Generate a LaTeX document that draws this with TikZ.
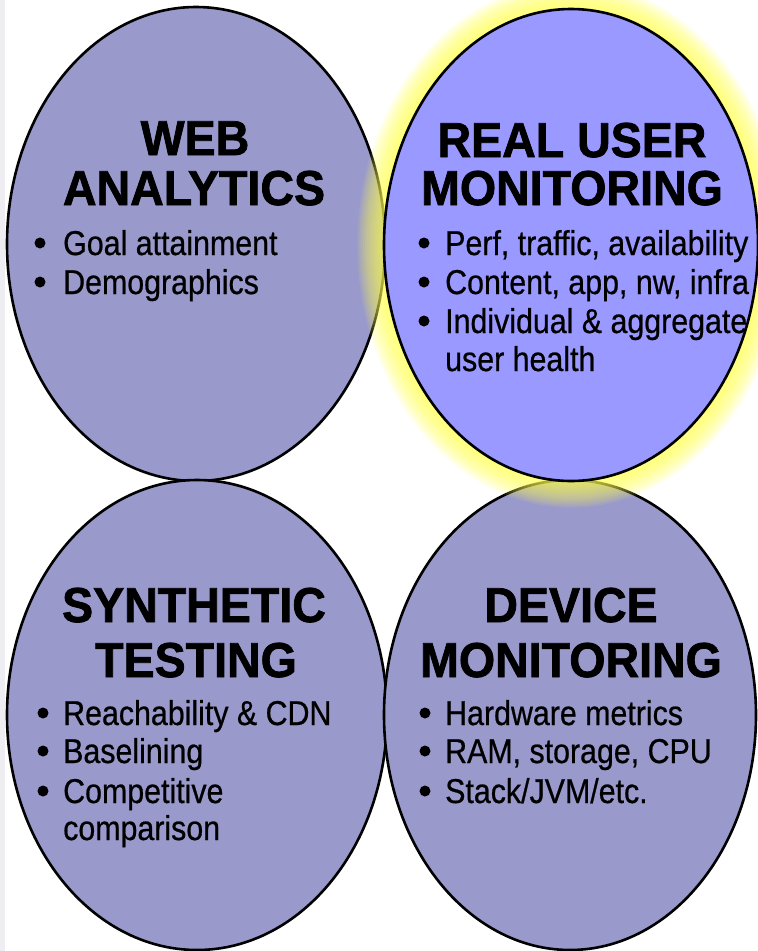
\documentclass[tikz,border=0pt]{standalone}
\usepackage{fontspec}
\setmainfont{Liberation Sans}
\newfontfamily\titlef[FakeStretch=0.95,FakeBold=1.5]{Liberation Sans}
\newfontfamily\bodyf[FakeStretch=0.88,FakeBold=0.6]{Liberation Sans}
\usetikzlibrary{shapes.geometric}
\definecolor{lav}{RGB}{153,153,204}
\definecolor{rumc}{RGB}{153,153,255}
\definecolor{glowc}{RGB}{255,255,80}
\definecolor{stripc}{RGB}{238,238,242}
\begin{document}
\begin{tikzpicture}[x=1pt,y=-1pt,
  oval/.style={ellipse, draw=black, line width=2.6pt, inner sep=0pt},
  ttl/.style={anchor=base, inner sep=0pt, font=\titlef\bfseries\fontsize{49}{50}\selectfont},
  itm/.style={anchor=base west, inner sep=0pt, font=\bodyf\fontsize{34.5}{36}\selectfont},
  dot/.style={fill=black}]
\useasboundingbox (0,0) rectangle (758,951);
\fill[white] (0,0) rectangle (758,951);
\fill[stripc] (0,0) rectangle (5,951);
% ovals
\node[oval, fill=lav, minimum width=378pt, minimum height=474pt] (wa) at (196,244) {};
\node[oval, fill=lav, minimum width=380pt, minimum height=470pt] (st) at (197,715) {};
\node[oval, fill=lav, minimum width=372pt, minimum height=470pt] (dm) at (570,715) {};
% glow
\foreach \i in {1,...,14}
  \fill[glowc, opacity=0.09] (571,245) ellipse ({187+1.9*\i} and {236+1.9*\i});
\node[oval, fill=rumc, minimum width=374pt, minimum height=472pt] (rum) at (571,245) {};
% WEB ANALYTICS
\node[ttl] (wa1) at (195,155) {WEB};
\node[ttl] (wa2) at (194,205) {ANALYTICS};
\fill[dot] (40,243) circle (5.5);
\node[itm] (wab1) at (63,255) {Goal attainment};
\fill[dot] (40,282) circle (5.5);
\node[itm] (wab2) at (63,294) {Demographics};
% REAL USER MONITORING
\node[ttl] (rum1) at (572,157) {REAL USER};
\node[ttl] (rum2) at (572,205) {MONITORING};
\fill[dot] (424,243) circle (5.5);
\node[itm] (rumb1) at (445,255) {Perf, traffic, availability};
\fill[dot] (424,282) circle (5.5);
\node[itm] (rumb2) at (445,294) {Content, app, nw, infra};
\fill[dot] (424,321) circle (5.5);
\node[itm] (rumb3) at (445,333) {Individual \& aggregate};
\node[itm] (rumb4) at (445,371) {user health};
% SYNTHETIC TESTING
\node[ttl] (st1) at (194,622) {SYNTHETIC};
\node[ttl] (st2) at (196,677) {TESTING};
\fill[dot] (43,713) circle (5.5);
\node[itm] (stb1) at (63,725) {Reachability \& CDN};
\fill[dot] (43,751) circle (5.5);
\node[itm] (stb2) at (63,763) {Baselining};
\fill[dot] (43,791) circle (5.5);
\node[itm] (stb3) at (63,803) {Competitive};
\node[itm] (stb4) at (63,840) {comparison};
% DEVICE MONITORING
\node[ttl] (dm1) at (571,622) {DEVICE};
\node[ttl] (dm2) at (571,677) {MONITORING};
\fill[dot] (425,713) circle (5.5);
\node[itm] (dmb1) at (445,725) {Hardware metrics};
\fill[dot] (425,751) circle (5.5);
\node[itm] (dmb2) at (445,763) {RAM, storage, CPU};
\fill[dot] (425,791) circle (5.5);
\node[itm] (dmb3) at (445,803) {Stack/JVM/etc.};
\end{tikzpicture}
\end{document}
